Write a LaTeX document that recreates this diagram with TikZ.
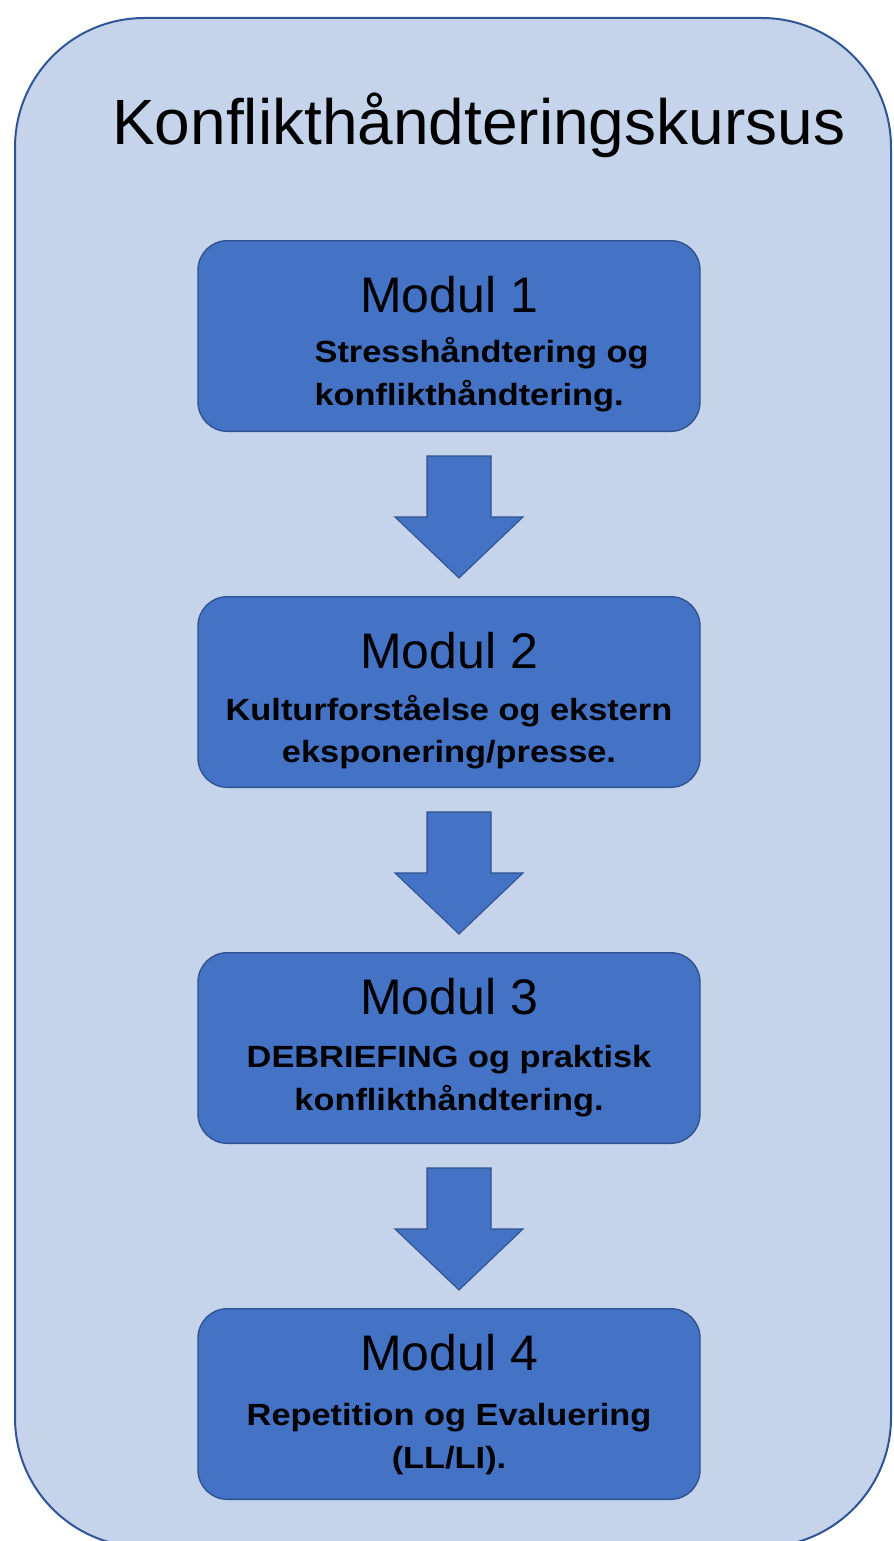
\documentclass[tikz,border=0pt]{standalone}
\usepackage{fontspec}
\setmainfont{Liberation Sans}
\newfontfamily\subfont{Liberation Sans}[FakeStretch=1.12]
\usepackage{xcolor}
\usepackage{tikz}
\usetikzlibrary{calc}
\usetikzlibrary{positioning}
\definecolor{bgblue}{RGB}{197,211,235}
\definecolor{edgeblue}{RGB}{47,85,151}
\definecolor{boxblue}{RGB}{68,114,196}
\definecolor{boxedge}{RGB}{47,82,143}
\tikzset{
  outerbox/.style={
    draw=edgeblue,
    fill=bgblue,
    line width=1.5pt,
    rounded corners=97pt,
  },
  modbox/.style={
    draw=boxedge,
    fill=boxblue,
    shape=rectangle,
    line width=1pt,
    rounded corners=22pt,
    minimum width=376.5pt,
    minimum height=143pt,
    inner sep=0pt,
  },
  modtitle/.style={
    inner sep=0pt,
    font=\fontsize{37.5pt}{40pt}\selectfont,
  },
  modtext/.style={
    inner sep=0pt,
    align=center,
    font=\subfont\bfseries\fontsize{23pt}{32pt}\selectfont,
  },
  blockarrow/.style={
    draw=boxedge,
    fill=boxblue,
    line width=0.8pt,
    line join=miter,
  },
}

\begin{document}
\begin{tikzpicture}[x=0.75pt,y=-0.75pt]
    \useasboundingbox (0,0) rectangle (893,1541);
    \draw[outerbox] (15,18) rectangle (891,1547);

    \node[anchor=base west, inner sep=0pt, font=\fontsize{48pt}{52pt}\selectfont] (title) at (112,145) {Konflikthåndteringskursus};

    \node[modbox] (m1) at (449,336) {};
    \node[modbox] (m2) [below=123pt of m1] {};
    \node[modbox] (m3) [below=123pt of m2] {};
    \node[modbox] (m4) [below=123pt of m3] {};

    % titles and texts in the boxes (base = last line)
    \node[modtitle, anchor=base] (m1title) at ([yshift=-54pt]m1.north) {Modul 1};
    \node[modtext, align=left, anchor=base west] (m1text) at ([xshift=87.75pt,yshift=-123.75pt]m1.north west) {Stresshåndtering og\\konflikthåndtering.};

    \node[modtitle, anchor=base] (m2title) at ([yshift=-54pt]m2.north) {Modul 2};
    \node[modtext, anchor=base] (m2text) at ([yshift=-125pt]m2.north) {Kulturforståelse og ekstern\\eksponering/presse.};

    \node[modtitle, anchor=base] (m3title) at ([yshift=-47pt]m3.north) {Modul 3};
    \node[modtext, anchor=base] (m3text) at ([yshift=-118.5pt]m3.north) {DEBRIEFING og praktisk\\konflikthåndtering.};

    \node[modtitle, anchor=base] (m4title) at ([yshift=-47pt]m4.north) {Modul 4};
    \node[modtext, anchor=base] (m4text) at ([yshift=-120pt]m4.north) {Repetition og Evaluering\\(LL/LI).};

    % block arrows between the boxes
    \foreach \a/\b in {m1/m2, m2/m3, m3/m4} {
      \path ($(\a.south)!0.5!(\b.north)$) ++(10,2) coordinate (\a mid);
      \draw[blockarrow] (\a mid) ++(-32,-60) -- ++(64,0) -- ++(0,61) -- ++(32,0) -- ++(-64,61) -- ++(-64,-61) -- ++(32,0) -- cycle;
    }
  \end{tikzpicture}
\end{document}
